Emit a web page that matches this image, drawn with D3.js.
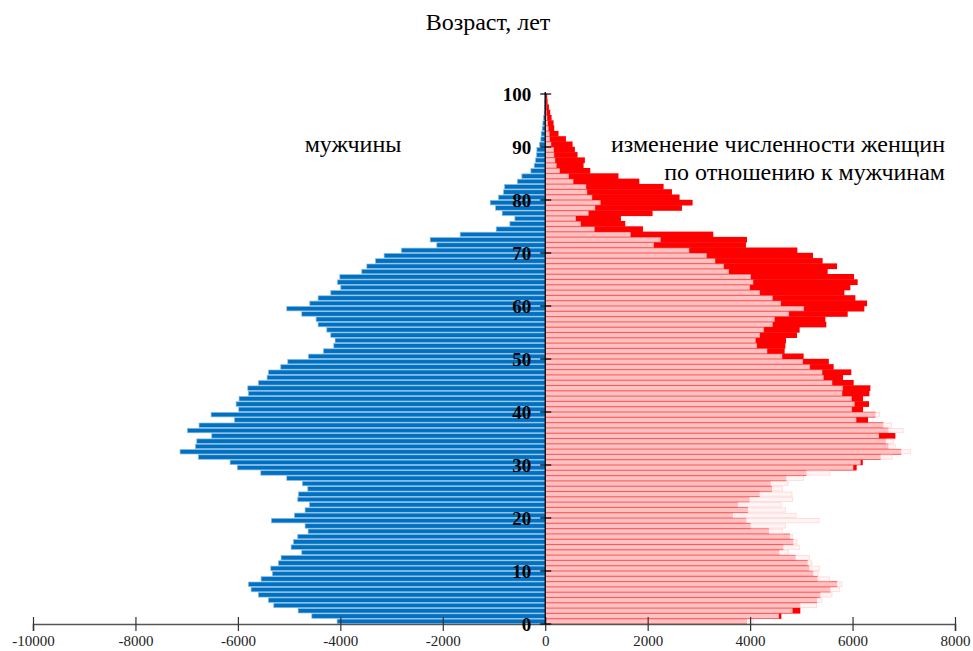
<!DOCTYPE html>
<html>
<head>
<meta charset="utf-8">
<script src="https://cdn.jsdelivr.net/npm/d3@7"></script>
<style>
  body { margin: 0; background: #fff; }
</style>
</head>
<body>
<div id="chart"></div>
<script>
// -----------------------------------------------------------------------
//  Data: population by single year of age (0..99)
// -----------------------------------------------------------------------
const ages = d3.range(0, 100);

// men (drawn to the left)
const men = [
  4063, 4557, 4824, 5299, 5404, 5599, 5742, 5794, 5547, 5326,
  5358, 5208, 5156, 4753, 4961, 4915, 4831, 4629, 4688, 5345,
  4896, 4688, 4603, 4831, 4818, 4635, 4740, 5046, 5553, 6009,
  6152, 6771, 7129, 6830, 6803, 6510, 6986, 6758, 6068, 6523,
  5983, 6035, 5977, 5794, 5807, 5599, 5430, 5404, 5163, 5026,
  4622, 4329, 4128, 4102, 4186, 4264, 4434, 4473, 4753, 5046,
  4596, 4434, 4186, 3991, 4056, 4010, 3581, 3483, 3314, 3145,
  2806, 2116, 2246, 1660, 957, 690, 592, 840, 970, 1074,
  911, 814, 794, 544, 456, 280, 215, 189, 169, 163,
  111, 85, 78, 59, 46, 33, 20, 15, 10, 5
];

// women (drawn to the right, men mirrored on top of them)
const women = [
  3939, 4610, 4980, 4980, 5306, 5371, 5566, 5700, 5319, 5234,
  5156, 5124, 4889, 4570, 4648, 4843, 4779, 4368, 4010, 3926,
  3665, 3958, 3763, 3990, 4186, 4427, 4401, 4707, 5100, 6080,
  6200, 6550, 6950, 6700, 6650, 6836, 6700, 6600, 6302, 6450,
  6205, 6322, 6205, 6328, 6348, 6022, 5814, 5975, 5631, 5537,
  5045, 4674, 4688, 4701, 4915, 4967, 5488, 5469, 5905, 6230,
  6283, 6055, 5840, 5957, 6100, 6029, 5514, 5697, 5416, 5228,
  4922, 3919, 3939, 3281, 1908, 1563, 1478, 2096, 2669, 2877,
  2623, 2474, 2311, 1836, 1430, 879, 749, 774, 631, 579,
  534, 404, 260, 176, 163, 124, 98, 72, 47, 39
];

const xTicks = [-10000, -8000, -6000, -4000, -2000, 0, 2000, 4000, 6000, 8000];
const yTicks = [0, 10, 20, 30, 40, 50, 60, 70, 80, 90, 100];

const serif = "'Liberation Serif', 'Times New Roman', Times, serif";

// -----------------------------------------------------------------------
const width = 973, height = 651;
const svg = d3.select("#chart").append("svg")
  .attr("width", width).attr("height", height);

const x = d3.scaleLinear().domain([-10000, 8000]).range([33, 955]);
const y = d3.scaleLinear().domain([0, 100]).range([624, 94]);
const band = d3.scaleBand().domain(ages).range([624, 94]).paddingInner(0);

const bh = band.bandwidth();

// women bars (red)
svg.append("g").selectAll("rect")
  .data(ages)
  .join("rect")
  .attr("x", x(0))
  .attr("y", d => band(d) - 0.2)
  .attr("width", d => x(women[d]) - x(0))
  .attr("height", bh + 0.4)
  .attr("fill", "#ff0000");

// men mirrored on the right (pale overlay)
svg.append("g").selectAll("rect")
  .data(ages)
  .join("rect")
  .attr("x", x(0))
  .attr("y", d => band(d) + bh * 0.1)
  .attr("width", d => x(men[d]) - x(0))
  .attr("height", bh * 0.8)
  .attr("fill", "#fff2f2")
  .attr("fill-opacity", 0.8)
  .attr("stroke", "#ffc0c0")
  .attr("stroke-opacity", 0.6)
  .attr("stroke-width", 0.8);

// men bars (blue, left)
svg.append("g").selectAll("rect")
  .data(ages)
  .join("rect")
  .attr("x", d => x(-men[d]))
  .attr("y", d => band(d) + 0.4)
  .attr("width", d => x(0) - x(-men[d]))
  .attr("height", bh - 0.8)
  .attr("fill", "#0070c0")
  .attr("stroke", "#8cbce6")
  .attr("stroke-width", 0.7);

// x axis
const xAxis = svg.append("g")
  .attr("transform", `translate(0,${y(0)})`)
  .call(d3.axisBottom(x).tickValues(xTicks).tickSize(7).tickFormat(d3.format("d")));
xAxis.select(".domain").attr("stroke", "#555").attr("stroke-width", 1.6);
xAxis.selectAll(".tick line").attr("y1", -7).attr("y2", 7).attr("stroke", "#333").attr("stroke-width", 1.2);
xAxis.selectAll(".tick text")
  .attr("y", 11)
  .style("font-size", "15px")
  .style("font-family", serif)
  .attr("fill", "#222")
  .text(d => d < 0 ? "-" + Math.abs(d) : d);

// y axis
const yAxis = svg.append("g")
  .attr("transform", `translate(${x(0)},0)`);
yAxis.append("line")
  .attr("y1", y(100) - 2).attr("y2", y(0))
  .attr("stroke", "#000").attr("stroke-width", 1.3);
yAxis.selectAll(".tk")
  .data(yTicks)
  .join("line")
  .attr("class", "tk")
  .attr("x1", -5).attr("x2", 6)
  .attr("y1", d => y(d)).attr("y2", d => y(d))
  .attr("stroke", "#000").attr("stroke-width", 1.2);
yAxis.selectAll(".lb")
  .data(yTicks)
  .join("text")
  .attr("class", "lb")
  .attr("x", -14)
  .attr("y", d => y(d))
  .attr("dy", "0.35em")
  .attr("text-anchor", "end")
  .style("font-family", serif)
  .style("font-size", "19px")
  .style("font-weight", "bold")
  .text(d => d);

// texts
function label(txt, xp, yp, anchor) {
  svg.append("text")
    .attr("x", xp).attr("y", yp)
    .attr("text-anchor", anchor)
    .style("font-family", serif)
    .style("font-size", "24px")
    .text(txt);
}
label("Возраст, лет", 488, 30, "middle");
label("мужчины", 353, 152, "middle");
label("изменение численности женщин", 945, 152, "end");
label("по отношению к мужчинам", 945, 180, "end");
</script>
</body>
</html>
